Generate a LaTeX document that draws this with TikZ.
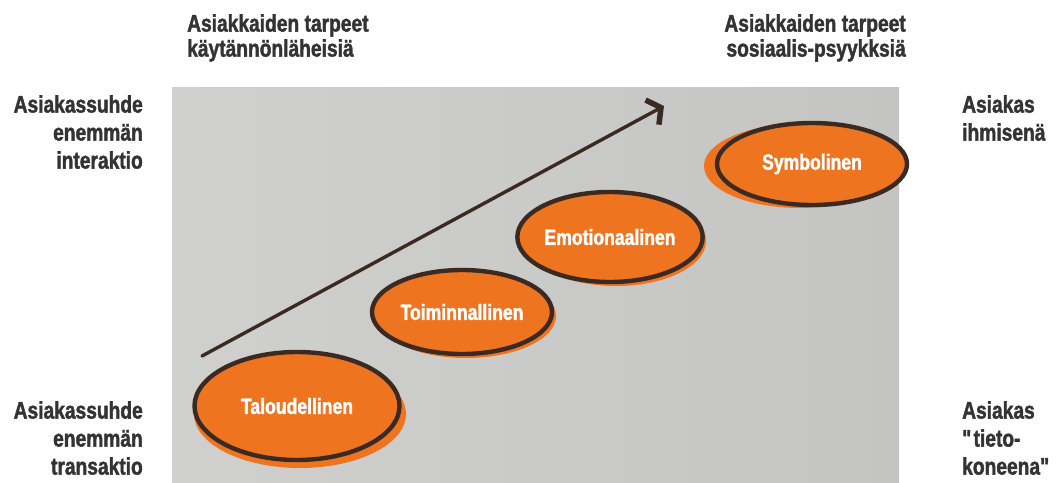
\documentclass[tikz,border=0pt]{standalone}
\usepackage{fontspec}
\setmainfont[FakeStretch=0.8,BoldFeatures={FakeBold=1.6}]{Liberation Sans}
\usetikzlibrary{arrows.meta,shapes.geometric}
\definecolor{bggray}{HTML}{C4C4C2}
\definecolor{bglight}{HTML}{D0D0CE}
\definecolor{ora}{HTML}{EE7420}
\definecolor{rim}{HTML}{3A2A22}
\definecolor{ink}{HTML}{333333}
\tikzset{
  side/.style={font=\bfseries\fontsize{24}{28}\selectfont,text=ink,inner sep=0pt},
  head/.style={font=\bfseries\fontsize{24}{25}\selectfont,text=ink,inner sep=0pt},
  stp/.style={ellipse,draw=rim,line width=4.4pt,fill=ora,text=white,inner sep=0pt,
    font=\bfseries\fontsize{22}{24}\selectfont},
  spl/.style={fill=ora},
  up/.style={line width=3.4pt,draw=rim,line cap=round,
    -{Straight Barb[length=10pt,width=28pt,line width=5.5pt]}}
}

\begin{document}
\begin{tikzpicture}[x=1pt,y=-1pt]
\useasboundingbox (0,0) rectangle (1057,482);
\shade[left color=bglight,right color=bggray] (172,87) rectangle (899,482);
% headings
\node[head,anchor=north west,align=left] (hl) at (187,14) {Asiakkaiden tarpeet\\käytännönläheisiä};
\node[head,anchor=north east,align=right] (hr) at (906,14) {Asiakkaiden tarpeet\\sosiaalis-psyykksiä};
\node[side,anchor=north east,align=right] (lu) at (143,95) {Asiakassuhde\\enemmän\\interaktio};
\node[side,anchor=north east,align=right] (ld) at (143,401) {Asiakassuhde\\enemmän\\transaktio};
\node[side,anchor=north west,align=left] (ru) at (962,95) {Asiakas\\ihmisenä};
\node[side,anchor=north west,align=left] (rd) at (962,401) {Asiakas\\\textquotedbl tieto-\\koneena\textquotedbl};
% splashes behind the steps
\fill[spl] (300,414) ellipse (106 and 54);
\fill[spl] (466,316) ellipse (90 and 42);
\fill[spl] (616,241) ellipse (90 and 45);
\fill[spl] (800,166) ellipse (96 and 42);
% steps
\node[stp,minimum width=205pt,minimum height=108pt] (tal) at (297,406) {Taloudellinen};
\node[stp,minimum width=180pt,minimum height=84pt] (toi) at (462,312) {Toiminnallinen};
\node[stp,minimum width=178pt,minimum height=90pt] (emo) at (610,237) {Emotionaalinen};
\node[stp,minimum width=190pt,minimum height=82pt] (sym) at (812,164) {Symbolinen};
% rising arrow
\coordinate (a0) at (202,356);
\coordinate (a1) at (664,106);
\draw[up] (a0) -- (a1);
\end{tikzpicture}
\end{document}
